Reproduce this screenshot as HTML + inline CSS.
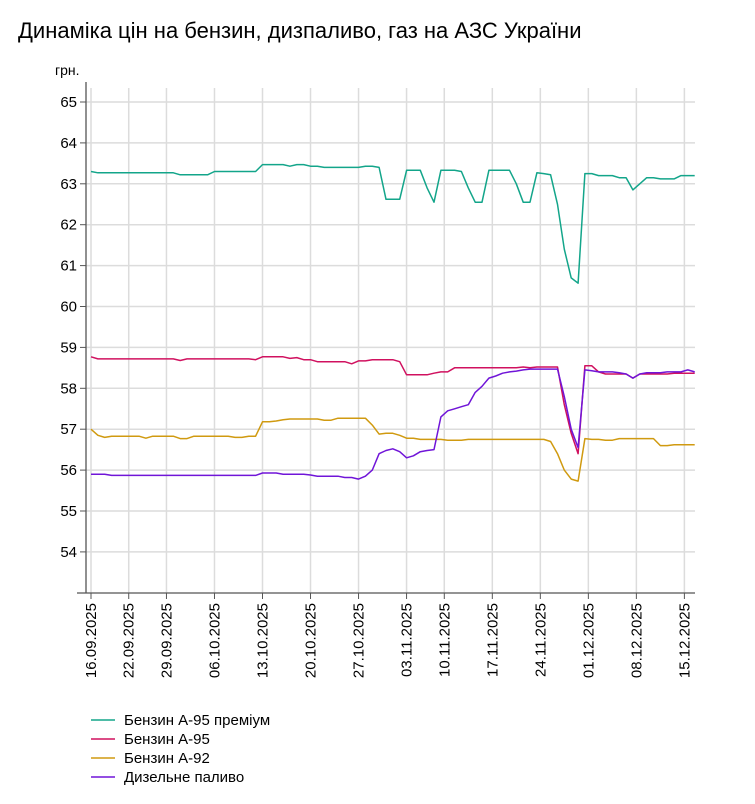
<!DOCTYPE html>
<html><head><meta charset="utf-8"><style>
body{margin:0;background:#fff;}
svg{display:block;font-family:"Liberation Sans","DejaVu Sans",sans-serif;}
</style></head><body>
<svg id="chart" width="755" height="804" viewBox="0 0 755 804" xmlns="http://www.w3.org/2000/svg">
<text x="18" y="38" font-size="22" fill="#000">Динаміка цін на бензин, дизпаливо, газ на АЗС України</text>
<text x="55" y="75" font-size="14" fill="#000">грн.</text>
<g id="grid"></g>
<g id="axes"></g>
<g id="series"></g>
<g id="legend"></g>
</svg>
<script>
const tickIdx = [0,5.5,11,18,25,32,39,46,51.5,58.5,65.5,72.5,79.5,86.5];
const tickLabels = ["16.09.2025","22.09.2025","29.09.2025","06.10.2025","13.10.2025","20.10.2025","27.10.2025","03.11.2025","10.11.2025","17.11.2025","24.11.2025","01.12.2025","08.12.2025","15.12.2025"];
const yTicks = [54,55,56,57,58,59,60,61,62,63,64,65];
const seriesNames = ["Бензин А-95 преміум","Бензин А-95","Бензин А-92","Дизельне паливо"];
const premium = [63.30,63.27,63.27,63.27,63.27,63.27,63.27,63.27,63.27,63.27,63.27,63.27,63.27,63.22,63.22,63.22,63.22,63.22,63.30,63.30,63.30,63.30,63.30,63.30,63.30,63.47,63.47,63.47,63.47,63.43,63.47,63.47,63.43,63.43,63.40,63.40,63.40,63.40,63.40,63.40,63.43,63.43,63.40,62.62,62.62,62.62,63.33,63.33,63.33,62.90,62.55,63.33,63.33,63.33,63.30,62.90,62.55,62.55,63.33,63.33,63.33,63.33,63.00,62.55,62.55,63.27,63.25,63.22,62.50,61.40,60.70,60.57,63.25,63.25,63.20,63.20,63.20,63.15,63.15,62.85,63.00,63.15,63.15,63.12,63.12,63.12,63.20,63.20,63.20];
const a95 = [58.77,58.72,58.72,58.72,58.72,58.72,58.72,58.72,58.72,58.72,58.72,58.72,58.72,58.68,58.72,58.72,58.72,58.72,58.72,58.72,58.72,58.72,58.72,58.72,58.70,58.77,58.77,58.77,58.77,58.73,58.75,58.70,58.70,58.65,58.65,58.65,58.65,58.65,58.60,58.67,58.67,58.70,58.70,58.70,58.70,58.65,58.33,58.33,58.33,58.33,58.37,58.40,58.40,58.50,58.50,58.50,58.50,58.50,58.50,58.50,58.50,58.50,58.50,58.52,58.50,58.52,58.52,58.52,58.52,57.60,56.90,56.40,58.55,58.55,58.40,58.35,58.35,58.35,58.35,58.25,58.35,58.35,58.35,58.35,58.35,58.37,58.37,58.37,58.37];
const a92 = [57.00,56.85,56.80,56.83,56.83,56.83,56.83,56.83,56.78,56.83,56.83,56.83,56.83,56.77,56.77,56.83,56.83,56.83,56.83,56.83,56.83,56.80,56.80,56.83,56.83,57.18,57.18,57.20,57.23,57.25,57.25,57.25,57.25,57.25,57.22,57.22,57.27,57.27,57.27,57.27,57.27,57.10,56.88,56.90,56.90,56.85,56.78,56.78,56.75,56.75,56.75,56.75,56.73,56.73,56.73,56.75,56.75,56.75,56.75,56.75,56.75,56.75,56.75,56.75,56.75,56.75,56.75,56.70,56.40,56.00,55.78,55.73,56.77,56.75,56.75,56.73,56.73,56.77,56.77,56.77,56.77,56.77,56.77,56.60,56.60,56.62,56.62,56.62,56.62];
const diesel = [55.90,55.90,55.90,55.87,55.87,55.87,55.87,55.87,55.87,55.87,55.87,55.87,55.87,55.87,55.87,55.87,55.87,55.87,55.87,55.87,55.87,55.87,55.87,55.87,55.87,55.93,55.93,55.93,55.90,55.90,55.90,55.90,55.88,55.85,55.85,55.85,55.85,55.82,55.82,55.78,55.85,56.00,56.40,56.48,56.52,56.45,56.30,56.35,56.45,56.48,56.50,57.30,57.45,57.50,57.55,57.60,57.90,58.05,58.25,58.30,58.37,58.40,58.42,58.45,58.47,58.47,58.47,58.47,58.47,57.80,57.00,56.55,58.45,58.43,58.40,58.40,58.40,58.38,58.35,58.25,58.35,58.38,58.38,58.38,58.40,58.40,58.40,58.45,58.40];
const colors = ["#13a58a","#d0115f","#d09a10","#7015d8"];
const allSeries = [premium,a95,a92,diesel];

const NS="http://www.w3.org/2000/svg";
const X0=91, K=6.86, Y65=102, PY=40.9, LEFT=86, RIGHT=695, BOTTOM=593, TOP=82;
const xs=i=>X0+i*K;
const ys=v=>Y65+(65-v)*PY;
function mk(tag,attrs,parent){const e=document.createElementNS(NS,tag);for(const k in attrs)e.setAttribute(k,attrs[k]);parent.appendChild(e);return e;}
const grid=document.getElementById('grid'),axes=document.getElementById('axes'),ser=document.getElementById('series'),leg=document.getElementById('legend');

yTicks.forEach(v=>{
  const l=mk('line',{x1:LEFT,x2:RIGHT,y1:ys(v),y2:ys(v),stroke:'#dcdcdc','stroke-width':1.5},grid);
  
  
  const t=mk('line',{x1:LEFT-6,x2:LEFT,y1:ys(v),y2:ys(v),stroke:'#555','stroke-width':1},axes);
  
  
  const tx=mk('text',{x:LEFT-9,y:ys(v)+5,'text-anchor':'end','font-size':15,fill:'#000'},axes);
  tx.textContent=v;
  
  
});
tickIdx.forEach((ti,j)=>{
  const x=xs(ti);
  const g=mk('line',{x1:x,x2:x,y1:TOP+6,y2:BOTTOM,stroke:'#dcdcdc','stroke-width':1.5},grid);
  
  
  const t=mk('line',{x1:x,x2:x,y1:BOTTOM,y2:BOTTOM+6,stroke:'#555','stroke-width':1},axes);
  
  
  const tx=mk('text',{x:0,y:0,'text-anchor':'end','font-size':15,fill:'#000',transform:`translate(${x+5},${BOTTOM+10}) rotate(-90)`},axes);
  tx.textContent=tickLabels[j];
  
  
});
const ya=mk('line',{x1:LEFT,x2:LEFT,y1:TOP,y2:BOTTOM,stroke:'#555','stroke-width':1.3},axes);


const xa=mk('line',{x1:77,x2:RIGHT,y1:BOTTOM,y2:BOTTOM,stroke:'#555','stroke-width':1.3},axes);



allSeries.forEach((d,s)=>{
  const p=mk('polyline',{points:d.map((v,i)=>xs(i).toFixed(1)+','+ys(v).toFixed(1)).join(' '),fill:'none',stroke:colors[s],'stroke-width':1.5,'stroke-linejoin':'round'},ser);
  
  
  const y=720+s*19;
  const l=mk('line',{x1:91,x2:115,y1:y,y2:y,stroke:colors[s],'stroke-width':1.5},leg);
  
  
  const t=mk('text',{x:124,y:y+5,'font-size':15,fill:'#000'},leg);
  t.textContent=seriesNames[s];
  
  
});
</script>
</body></html>
